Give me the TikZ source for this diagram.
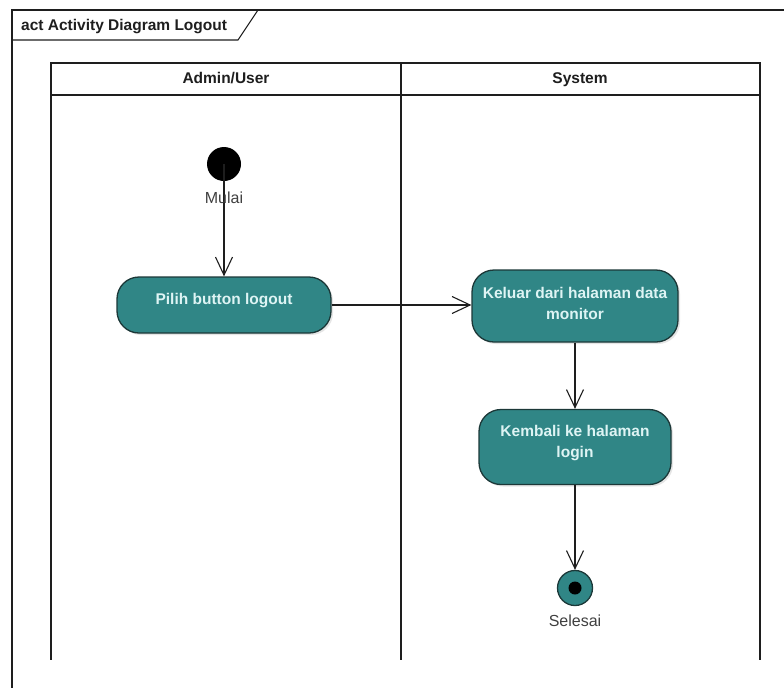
\documentclass[tikz,border=0pt]{standalone}
\usepackage{fontspec}
\setmainfont{Liberation Sans}
\usetikzlibrary{arrows.meta,shadows}
\definecolor{actfill}{RGB}{48,134,134}
\definecolor{actline}{RGB}{28,56,56}
\definecolor{acttext}{RGB}{222,244,244}
\definecolor{ink}{RGB}{30,30,30}
\begin{document}
\begin{tikzpicture}[x=1pt,y=-1pt,
  frameline/.style={line width=1.1pt, draw=ink},
  boldlabel/.style={font=\fontsize{15.5}{18}\selectfont\bfseries, text=ink,
    inner sep=0pt, anchor=base},
  plainlabel/.style={font=\fontsize{16}{18}\selectfont, text=ink!85,
    inner sep=0pt, anchor=base},
  action/.style={rectangle, rounded corners=22pt, draw=actline, line width=1.3pt,
    fill=actfill, text=acttext, font=\fontsize{15.5}{21}\selectfont\bfseries,
    align=center, inner sep=2pt,
    drop shadow={shadow xshift=2pt, shadow yshift=-2pt, opacity=0.2}},
  flow/.style={line width=1.1pt, draw=ink,
    -{Straight Barb[length=18pt, width=17pt, line width=1.1pt]}}]

\useasboundingbox (0,0) rectangle (784,688);
\fill[white] (0,0) rectangle (784,688);

% outer activity frame and its name tab
\draw[frameline] (784,10) -- (12,10) -- (12,688);
\draw[frameline] (12,40) -- (238,40) -- (258,10);
\node[boldlabel, anchor=base west] (title) at (21,30) {act Activity Diagram Logout};

% swimlanes
\draw[frameline] (51,63) rectangle (760,95);
\draw[frameline] (51,95) -- (51,660);
\draw[frameline] (401,63) -- (401,660);
\draw[frameline] (760,95) -- (760,660);
\node[boldlabel] (laneA) at (226,83) {Admin/User};
\node[boldlabel] (laneB) at (580,83) {System};

% nodes
\node[circle, fill=black, minimum size=34pt, inner sep=0pt] (start) at (224,164) {};
\node[action, minimum width=214pt, minimum height=56pt, text depth=13pt] (pilih)
  at (224,305) {Pilih button logout};
\node[action, minimum width=206pt, minimum height=72pt, text depth=5pt] (keluar)
  at (575,306) {Keluar dari halaman data\\monitor};
\node[action, minimum width=192pt, minimum height=75pt, text depth=11pt] (kembali)
  at (575,447) {Kembali ke halaman\\login};
\node[circle, draw=actline, line width=1.3pt, fill=actfill, minimum size=35pt,
  inner sep=0pt] (final) at (575,588) {};
\node[circle, fill=black, minimum size=13pt, inner sep=0pt] (finaldot) at (final) {};

% control flows
\draw[flow] (start.center) -- (pilih.north);
\draw[flow] (pilih.east) -- (pilih.east -| keluar.west);
\draw[flow] (keluar.south) -- (kembali.north);
\draw[flow] (kembali.south) -- (final.north);

% node names
\node[plainlabel] (mulai) at (224,203) {Mulai};
\node[plainlabel] (selesai) at (575,626) {Selesai};
\end{tikzpicture}
\end{document}
